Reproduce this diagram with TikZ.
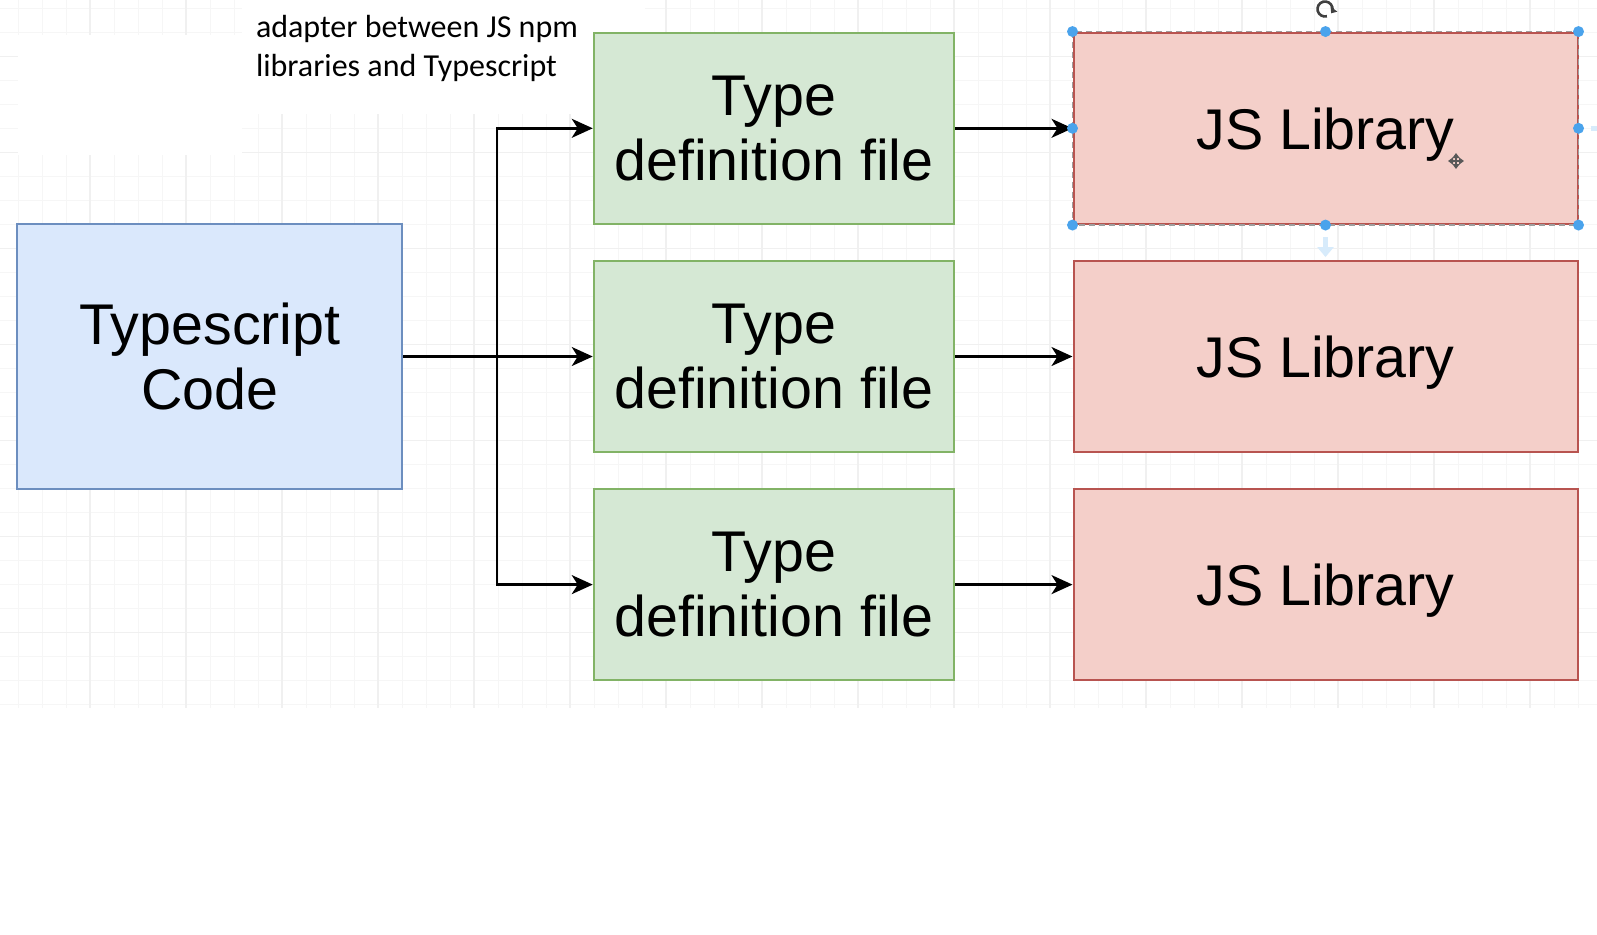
\documentclass[tikz,border=0pt]{standalone}
\usepackage{fontspec}
\setmainfont{Liberation Sans}
\newfontfamily\notefont{Carlito}
\usetikzlibrary{arrows.meta,calc}
\definecolor{bluefill}{HTML}{DAE8FC}
\definecolor{bluedraw}{HTML}{6C8EBF}
\definecolor{greenfill}{HTML}{D5E8D4}
\definecolor{greendraw}{HTML}{82B366}
\definecolor{redfill}{HTML}{F4CFC9}
\definecolor{reddraw}{HTML}{B85450}
\definecolor{handleblue}{HTML}{4AA3EC}
\begin{document}
\begin{tikzpicture}[x=0.5pt,y=-0.5pt,
  box/.style={draw, line width=1pt, inner sep=0pt, align=center,
    font=\fontsize{28.7}{32.5}\selectfont},
  tsbox/.style={box, fill=bluefill, draw=bluedraw, minimum width=192.5pt, minimum height=132.5pt},
  tdbox/.style={box, fill=greenfill, draw=greendraw, minimum width=180.25pt, minimum height=95.75pt},
  jsbox/.style={box, fill=redfill, draw=reddraw, minimum width=252pt, minimum height=95.75pt, text depth=0pt},
  conn/.style={line width=1.25pt, -{Stealth[length=10.5pt,width=9.5pt,inset=3pt]}},
  handle/.style={circle, fill=handleblue, inner sep=0pt, minimum size=5.5pt},
  seldash/.style={draw=gray!75, dash pattern=on 3pt off 2pt, line width=0.6pt},
  gridminor/.style={draw=black!3.5, line width=0.5pt},
  gridmajor/.style={draw=black!6, line width=0.6pt},
  hint/.style={draw=handleblue!22, line width=2.5pt},
  notetext/.style={font=\notefont\fontsize{16}{19.3}\selectfont, anchor=base west, inner sep=0pt}
]
\useasboundingbox (0,0) rectangle (1597,934);
\fill[white] (0,0) rectangle (1597,934);

% background grid
\foreach \x in {18.3,42.3,...,1597} \draw[gridminor] (\x,0) -- (\x,708);
\foreach \y in {8.7,32.7,...,708} \draw[gridminor] (0,\y) -- (1597,\y);
\foreach \x in {90,186,...,1597} \draw[gridmajor] (\x,0) -- (\x,708);
\foreach \y in {56.7,152.7,...,708} \draw[gridmajor] (0,\y) -- (1597,\y);
\fill[white] (18,35) rectangle (242,155);
\fill[white] (242,0) rectangle (645,114);

% note
\node[notetext] (note1) at (255.6,37.5) {adapter between JS npm};
\node[notetext] (note2) at ($(note1.base west)+(0,38.6)$) {libraries and Typescript};

% boxes
\node[tsbox] (ts) at (209.8,356.5) {Typescript\\Code};
\node[tdbox] (td1) at (774,128.3) {Type\\definition file};
\node[tdbox] (td2) at (774,356.5) {Type\\definition file};
\node[tdbox] (td3) at (774,584.6) {Type\\definition file};
\node[jsbox] (js1) at (1325.5,128.3) {JS Library};
\node[jsbox] (js2) at (1325.5,356.5) {JS Library};
\node[jsbox] (js3) at (1325.5,584.6) {JS Library};

% connectors
\coordinate (split) at (497,356.5);
\draw[conn] (ts.east) -- (td2.west);
\draw[conn] (split) |- (td1.west);
\draw[conn] (split) |- (td3.west);
\draw[conn] (td1.east) -- (js1.west);
\draw[conn] (td2.east) -- (js2.west);
\draw[conn] (td3.east) -- (js3.west);

% selection decorations on the first JS Library box
\draw[seldash] (js1.north west) rectangle (js1.south east);
\coordinate (hintb) at ($(js1.south)+(0,12)$);
\coordinate (hintbe) at ($(js1.south)+(0,32)$);
\draw[hint, -{Triangle[length=5pt,width=8pt]}] (hintb) -- (hintbe);
\coordinate (hintr) at ($(js1.east)+(12,0)$);
\coordinate (hintre) at ($(js1.east)+(24,0)$);
\draw[hint] (hintr) -- (hintre);
\foreach \a in {north west,north,north east,west,east,south west,south,south east}
  \node[handle] at (js1.\a) {};
\coordinate (rot) at (1325,9);
\draw[line width=1.3pt, black!75, -{Triangle[length=2.5pt,width=4pt]}]
  ($(rot)+(75:7.5)$) arc[start angle=75, end angle=395, radius=7.5];
% move cursor
\coordinate (mv) at (1456,161);
\draw[line width=0.9pt, black!65, {Triangle[length=2.5pt,width=3.5pt]}-{Triangle[length=2.5pt,width=3.5pt]}]
  ($(mv)+(-8,0)$) -- ($(mv)+(8,0)$);
\draw[line width=0.9pt, black!65, {Triangle[length=2.5pt,width=3.5pt]}-{Triangle[length=2.5pt,width=3.5pt]}]
  ($(mv)+(0,-8)$) -- ($(mv)+(0,8)$);
\end{tikzpicture}
\end{document}
